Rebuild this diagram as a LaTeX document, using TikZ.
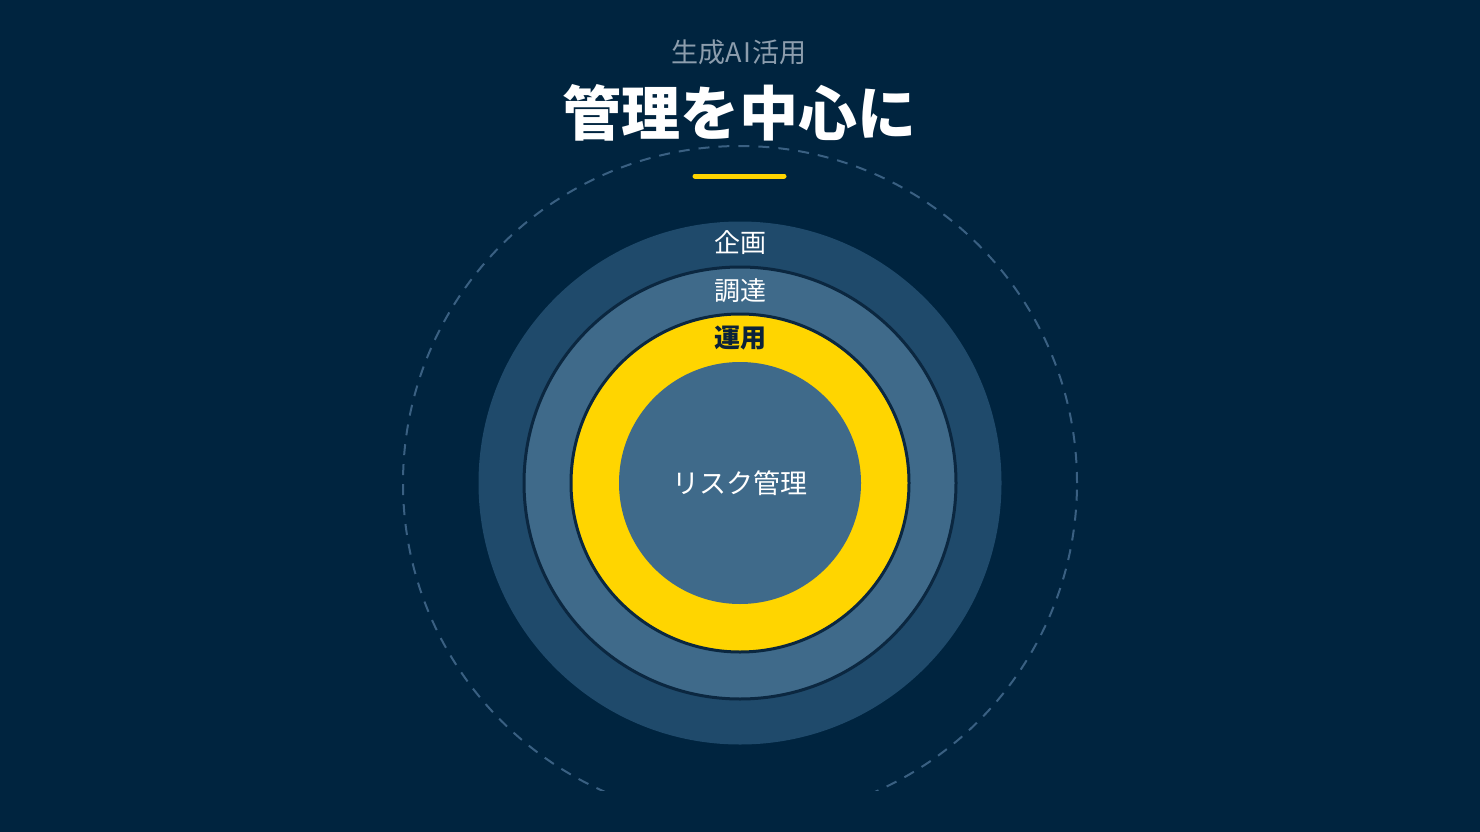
\documentclass[tikz,border=0pt]{standalone}
\usepackage{fontspec}
\setmainfont{Noto Sans CJK JP}
\usetikzlibrary{calc}
\definecolor{navybg}{HTML}{00243F}
\definecolor{ringout}{HTML}{1F4A6B}
\definecolor{ringmid}{HTML}{3F6A8A}
\definecolor{ringline}{HTML}{0B2740}
\definecolor{gold}{HTML}{FFD500}
\definecolor{dashblue}{HTML}{3A6082}
\definecolor{subgray}{HTML}{8C9DAD}
\definecolor{inktext}{HTML}{0B2239}
\tikzset{
  ring/.style={circle,inner sep=0pt,minimum size=#1},
  lbl/.style={font=\fontsize{26}{30}\selectfont,text=white,inner sep=0pt}
}

\begin{document}
\begin{tikzpicture}[x=1pt,y=-1pt]
  \fill [navybg] (0,0) rectangle (1480,832);
  \useasboundingbox (0,0) rectangle (1480,832);
  \coordinate (c) at (740,483);
  % dashed guide circle, cut off at the bottom
  \begin{scope}
    \clip (0,0) rectangle (1480,790);
    \draw [dashblue, line width=2pt, dash pattern=on 11pt off 9pt] (c) circle (337pt);
  \end{scope}
  \node (plan) at (c)[ring=523pt,fill=ringout]{};
  \node (procure) at (c)[ring=432pt,fill=ringmid,draw=ringline,line width=3pt]{};
  \node (operate) at (c)[ring=338pt,fill=gold,draw=ringline,line width=3pt]{};
  \node (risk) at (c)[ring=242pt,fill=ringmid]{};
         \node (plantxt) at (740,243)[lbl]{企画};
         \node (proctxt) at (740,291)[lbl]{調達};
         \node (opertxt) at (740,338)[lbl,text=inktext]{\bfseries 運用};
         \node (risktxt) at (risk.center)[lbl,font=\fontsize{27}{30}\selectfont]{リスク管理};
  \node (sub) at (739,52)[lbl,text=subgray,font=\fontsize{27}{30}\selectfont]{生成A\kern1.5pt I\kern1.5pt 活用};
  \node (title) at (739,113)[lbl,font=\fontsize{59}{64}\selectfont\bfseries]{管理を中心に};
  \coordinate (barl) at (695,176);
  \coordinate (barr) at (784,176);
  \draw [gold, line width=5pt, line cap=round] (barl) -- (barr);
    \end{tikzpicture}
\end{document}
